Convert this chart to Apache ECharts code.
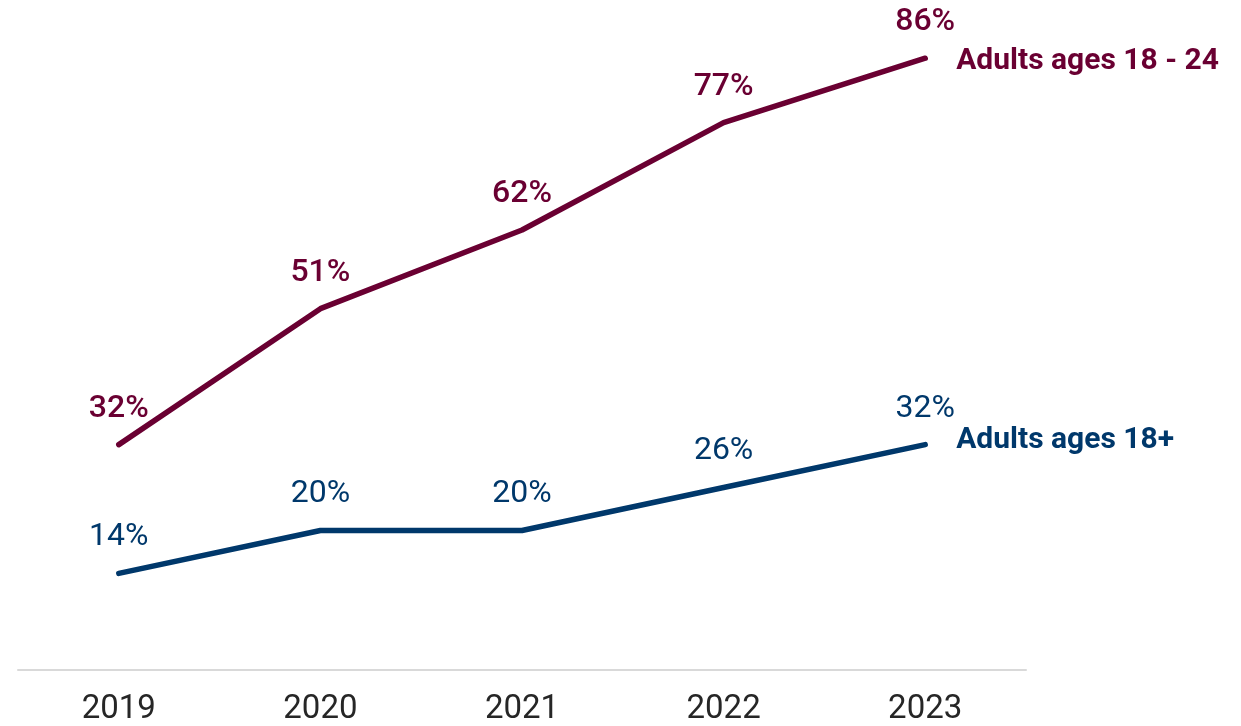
<!DOCTYPE html>
<html>
<head>
<meta charset="utf-8">
<script src="https://cdn.jsdelivr.net/npm/echarts@6/dist/echarts.min.js"></script>
<style>
  html, body { margin: 0; padding: 0; background: #fff; }
  #chart { width: 1241px; height: 726px; }
</style>
</head>
<body>
<div id="chart"></div>
<script>
// Survey years and shares (%) for the two adult age groups
const years = ['2019', '2020', '2021', '2022', '2023'];
const youngAdults = [32, 51, 62, 77, 86];
const allAdults = [14, 20, 20, 26, 32];
const seriesNames = ['Adults ages 18 - 24', 'Adults ages 18+'];

const MAROON = '#6a0032';
const NAVY = '#00386b';
const FONT = 'Roboto, "Liberation Sans", sans-serif';

function lineSeries(name, data, color, labelWeight, endOffsetY) {
  return {
    name: name,
    type: 'line',
    data: data,
    symbol: 'circle',
    symbolSize: 0.1,
    lineStyle: { color: color, width: 5.5, cap: 'round', join: 'round' },
    itemStyle: { color: color },
    label: {
      show: true,
      position: 'top',
      distance: 20,
      color: color,
      fontFamily: FONT,
      fontSize: 32,
      fontWeight: labelWeight,
      formatter: '{c}%'
    },
    endLabel: {
      show: true,
      distance: 31,
      offset: [0, endOffsetY],
      color: color,
      fontFamily: FONT,
      fontSize: 30,
      fontWeight: 'bold',
      formatter: '{a}'
    },
    emphasis: { disabled: true },
    animation: false
  };
}

const chart = echarts.init(document.getElementById('chart'));
chart.setOption({
  backgroundColor: '#ffffff',
  grid: { left: 18, right: 215, top: 1, bottom: 54 },
  xAxis: {
    type: 'category',
    data: years,
    boundaryGap: true,
    axisLine: { show: true, lineStyle: { color: '#d9d9d9', width: 2 } },
    axisTick: { show: false },
    axisLabel: {
      color: '#262626',
      fontFamily: FONT,
      fontSize: 33,
      margin: 23
    }
  },
  yAxis: {
    type: 'value',
    min: 0.5,
    max: 94,
    show: false,
    splitLine: { show: false }
  },
  series: [
    lineSeries(seriesNames[0], youngAdults, MAROON, 500, 3),
    lineSeries(seriesNames[1], allAdults, NAVY, 'normal', -4)
  ]
});
</script>
</body>
</html>
